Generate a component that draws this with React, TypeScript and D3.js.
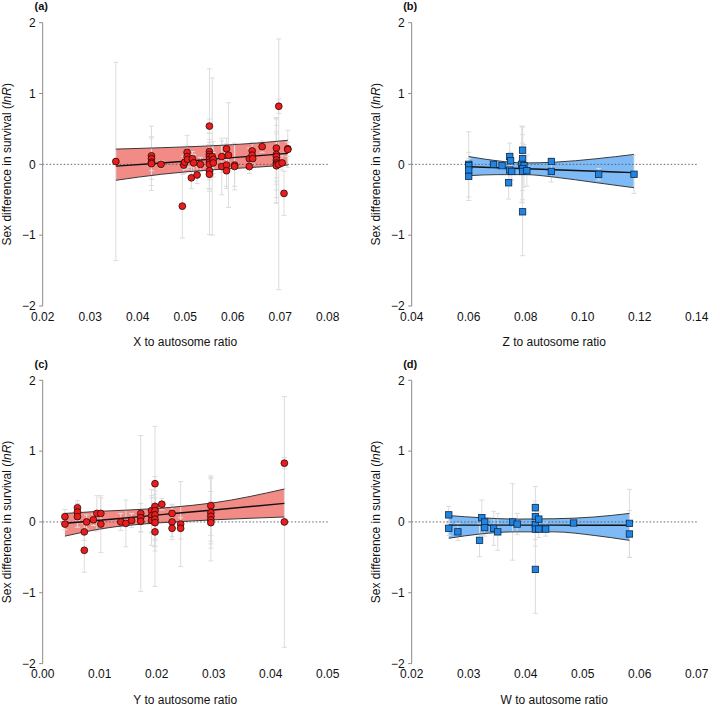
import React, { useEffect, useRef } from "react";
import * as d3 from "d3";

// (a) X to autosome ratio vs lnR
const xRatioA = [0.0354, 0.0429, 0.0429, 0.0429, 0.0429, 0.0449, 0.0494, 0.0497, 0.0499, 0.0504, 0.0504, 0.0505, 0.0513, 0.0515, 0.0518, 0.0525, 0.0532, 0.0551, 0.0551, 0.0551, 0.0551, 0.0551, 0.0551, 0.0551, 0.0551, 0.0551, 0.0557, 0.0559, 0.0559, 0.0577, 0.0577, 0.0587, 0.0587, 0.0587, 0.0591, 0.0604, 0.0604, 0.0635, 0.0635, 0.0641, 0.0641, 0.0642, 0.0662, 0.0692, 0.0692, 0.0692, 0.0692, 0.0692, 0.0692, 0.0692, 0.0697, 0.0697, 0.0704, 0.0708, 0.0716, 0.0716];
const lnRA = [0.04, 0.12, 0.08, 0.03, 0.01, 0.0, -0.59, -0.01, 0.03, 0.17, 0.11, 0.07, -0.19, 0.08, 0.02, -0.15, 0.0, 0.54, 0.18, 0.14, 0.11, 0.07, 0.03, 0.0, -0.09, -0.14, 0.11, 0.07, 0.02, 0.11, -0.03, 0.22, -0.01, -0.09, 0.13, -0.01, -0.03, 0.08, -0.03, 0.19, 0.13, 0.08, 0.25, 0.23, 0.14, 0.11, 0.06, 0.02, 0.0, -0.02, 0.82, 0.0, 0.02, -0.41, 0.22, 0.21];
const ciA = [1.4, 0.42, 0.29, 0.12, 0.38, 0.05, 0.45, 0.12, 0.1, 0.24, 0.15, 0.1, 0.15, 0.1, 0.12, 0.12, 0.1, 0.1, 1.17, 0.3, 0.2, 0.45, 0.25, 0.35, 0.25, 0.2, 1.11, 0.25, 0.15, 0.22, 0.4, 0.15, 0.3, 0.25, 0.74, 0.3, 0.33, 0.15, 0.1, 0.12, 0.1, 0.08, 0.08, 0.42, 0.5, 0.35, 0.6, 0.3, 0.55, 0.45, 0.1, 1.77, 0.1, 0.31, 0.26, 0.1];
const bandXA = [0.0354, 0.045, 0.055, 0.065, 0.0716];
const bandLoA = [-0.225, -0.14, -0.08, -0.04, -0.01];
const bandFitA = [-0.025, 0.02, 0.07, 0.12, 0.155];
const bandHiA = [0.215, 0.235, 0.26, 0.3, 0.34];
const ticksA = [0.02, 0.03, 0.04, 0.05, 0.06, 0.07, 0.08];

// (b) Z to autosome ratio vs lnR
const xRatioB = [0.06, 0.06, 0.06, 0.06, 0.0687, 0.0717, 0.074, 0.0744, 0.0747, 0.0744, 0.0751, 0.0789, 0.0789, 0.0786, 0.0794, 0.0789, 0.0789, 0.0789, 0.0804, 0.089, 0.089, 0.1056, 0.118];
const lnRB = [0.0, -0.02, -0.08, -0.17, 0.0, -0.02, -0.26, 0.11, 0.05, -0.08, -0.1, 0.2, 0.08, 0.0, -0.02, -0.06, -0.1, -0.67, -0.09, 0.04, -0.1, -0.14, -0.14];
const ciB = [0.46, 0.1, 0.1, 0.34, 0.05, 0.05, 0.23, 0.19, 0.12, 0.2, 0.12, 0.33, 0.45, 0.54, 0.3, 0.48, 0.4, 0.62, 0.22, 0.05, 0.15, 0.08, 0.27];
const bandXB = [0.06, 0.07, 0.08, 0.09, 0.105, 0.118];
const bandLoB = [-0.16, -0.145, -0.145, -0.18, -0.26, -0.33];
const bandFitB = [-0.033, -0.047, -0.062, -0.076, -0.098, -0.117];
const bandHiB = [0.11, 0.05, 0.02, 0.03, 0.08, 0.14];
const ticksB = [0.04, 0.06, 0.08, 0.1, 0.12, 0.14];

// (c) Y to autosome ratio vs lnR
const xRatioC = [0.0039, 0.0039, 0.0061, 0.0061, 0.0061, 0.0073, 0.0073, 0.0077, 0.0089, 0.0095, 0.0102, 0.0102, 0.0137, 0.0146, 0.0156, 0.0172, 0.0172, 0.0172, 0.0191, 0.0191, 0.0191, 0.0197, 0.0197, 0.0197, 0.0197, 0.0197, 0.0197, 0.0197, 0.0209, 0.0227, 0.0227, 0.0227, 0.0242, 0.0242, 0.0295, 0.0295, 0.0295, 0.0295, 0.0295, 0.0424, 0.0424];
const lnRC = [0.075, -0.03, 0.2, 0.14, 0.075, -0.14, -0.4, 0.0, 0.03, 0.12, 0.12, -0.03, 0.0, -0.02, 0.02, 0.12, 0.06, 0.01, 0.16, 0.09, 0.02, 0.54, 0.22, 0.16, 0.1, 0.04, -0.01, -0.14, 0.25, 0.12, 0.0, -0.09, -0.03, -0.09, 0.23, 0.13, 0.08, 0.03, -0.01, 0.83, 0.0];
const ciC = [0.1, 0.08, 0.1, 0.12, 0.15, 0.12, 0.31, 0.1, 0.08, 0.25, 0.22, 0.4, 0.12, 0.33, 0.1, 1.1, 0.2, 0.15, 0.3, 0.25, 0.35, 0.1, 1.13, 0.4, 0.45, 0.3, 0.4, 0.2, 0.08, 0.12, 0.25, 0.12, 0.6, 0.15, 0.42, 0.5, 0.35, 0.58, 0.3, 0.08, 1.77];
const bandXC = [0.0039, 0.01, 0.02, 0.023, 0.03, 0.0424];
const bandLoC = [-0.2, -0.1, -0.015, 0.0, 0.03, 0.07];
const bandFitC = [-0.02, 0.024, 0.097, 0.12, 0.169, 0.263];
const bandHiC = [0.12, 0.15, 0.19, 0.21, 0.27, 0.465];
const ticksC = [0.0, 0.01, 0.02, 0.03, 0.04, 0.05];

// (d) W to autosome ratio vs lnR
const xRatioD = [0.0265, 0.0265, 0.0281, 0.0319, 0.0323, 0.0328, 0.0328, 0.0344, 0.0351, 0.0377, 0.0385, 0.0417, 0.0417, 0.0417, 0.0417, 0.0417, 0.0423, 0.0423, 0.0435, 0.0484, 0.0582, 0.0582];
const lnRD = [0.1, -0.09, -0.14, -0.26, 0.06, 0.0, -0.08, -0.09, -0.14, 0.0, -0.03, 0.2, 0.075, -0.04, -0.1, -0.67, 0.04, -0.1, -0.1, -0.015, -0.02, -0.17];
const ciD = [0.12, 0.1, 0.12, 0.23, 0.25, 0.1, 0.12, 0.24, 0.26, 0.54, 0.15, 0.3, 0.22, 0.3, 0.15, 0.62, 0.1, 0.12, 0.1, 0.05, 0.48, 0.33];
const bandXD = [0.0265, 0.032, 0.038, 0.045, 0.052, 0.0582];
const bandLoD = [-0.23, -0.17, -0.14, -0.14, -0.19, -0.26];
const bandFitD = [-0.045, -0.045, -0.045, -0.045, -0.046, -0.047];
const bandHiD = [0.09, 0.06, 0.04, 0.045, 0.07, 0.12];
const ticksD = [0.02, 0.03, 0.04, 0.05, 0.06, 0.07];

const yTicks = [-2, -1, 0, 1, 2];

const RED = { point: "#ec1c1c", band: "#f28a85" };
const BLUE = { point: "#1f84e2", band: "#7dbaf6" };

const panels = [
  { label: "(a)", title: "X to autosome ratio", x: xRatioA, y: lnRA, ci: ciA, bx: bandXA, lo: bandLoA, fit: bandFitA, hi: bandHiA, ticks: ticksA, col: 0, row: 0, pal: RED, shape: "circle" },
  { label: "(b)", title: "Z to autosome ratio", x: xRatioB, y: lnRB, ci: ciB, bx: bandXB, lo: bandLoB, fit: bandFitB, hi: bandHiB, ticks: ticksB, col: 1, row: 0, pal: BLUE, shape: "square" },
  { label: "(c)", title: "Y to autosome ratio", x: xRatioC, y: lnRC, ci: ciC, bx: bandXC, lo: bandLoC, fit: bandFitC, hi: bandHiC, ticks: ticksC, col: 0, row: 1, pal: RED, shape: "circle" },
  { label: "(d)", title: "W to autosome ratio", x: xRatioD, y: lnRD, ci: ciD, bx: bandXD, lo: bandLoD, fit: bandFitD, hi: bandHiD, ticks: ticksD, col: 1, row: 1, pal: BLUE, shape: "square" },
];

const App = () => {
  const ref = useRef<SVGSVGElement>(null);

  useEffect(() => {
    const svg = d3.select(ref.current);
    svg.selectAll("*").remove();

    const font = "'Liberation Sans', Arial, Helvetica, sans-serif";
    const plotW = 285;
    const plotH = 283.3;
    const colX = [42.7, 411.7];
    const rowY = [22.7, 380.3];

    panels.forEach((p) => {
      const x0 = colX[p.col];
      const y0 = rowY[p.row];
      const x = d3.scaleLinear().domain([p.ticks[0], p.ticks[p.ticks.length - 1]]).range([x0, x0 + plotW]);
      const y = d3.scaleLinear().domain([-2, 2]).range([y0 + plotH, y0]);
      const g = svg.append("g");

      // confidence band
      const idx = d3.range(p.bx.length);
      g.append("path")
        .attr("d", d3.area<number>().x((i) => x(p.bx[i])).y0((i) => y(p.lo[i])).y1((i) => y(p.hi[i])).curve(d3.curveMonotoneX)(idx))
        .attr("fill", p.pal.band);

      // error bars
      const eb = g.append("g").attr("stroke", "#dcdcdc").attr("stroke-width", 1).attr("fill", "none");
      p.x.forEach((xv, i) => {
        const cx = x(xv);
        const top = y(p.y[i] + p.ci[i]);
        const bot = y(p.y[i] - p.ci[i]);
        eb.append("line").attr("x1", cx).attr("x2", cx).attr("y1", top).attr("y2", bot);
        eb.append("line").attr("x1", cx - 2.5).attr("x2", cx + 2.5).attr("y1", top).attr("y2", top);
        eb.append("line").attr("x1", cx - 2.5).attr("x2", cx + 2.5).attr("y1", bot).attr("y2", bot);
      });

      // band edges and fitted line
      const edge = (vals: number[]) =>
        d3.line<number>().x((i) => x(p.bx[i])).y((i) => y(vals[i])).curve(d3.curveMonotoneX)(idx);
      g.append("path").attr("d", edge(p.hi)).attr("fill", "none").attr("stroke", "#3a3a3a").attr("stroke-width", 1);
      g.append("path").attr("d", edge(p.lo)).attr("fill", "none").attr("stroke", "#3a3a3a").attr("stroke-width", 1);

      // zero reference
      g.append("line")
        .attr("x1", x0).attr("x2", x0 + plotW)
        .attr("y1", y(0)).attr("y2", y(0))
        .attr("stroke", "#555").attr("stroke-width", 0.9).attr("stroke-dasharray", "1.5,2");

      g.append("path").attr("d", edge(p.fit)).attr("fill", "none").attr("stroke", "#111").attr("stroke-width", 1.4);

      // points
      if (p.shape === "circle") {
        g.append("g").selectAll("circle").data(p.x).join("circle")
          .attr("cx", (d) => x(d)).attr("cy", (_, i) => y(p.y[i])).attr("r", 3.4)
          .attr("fill", p.pal.point).attr("stroke", "#2a0a0a").attr("stroke-width", 0.8);
      } else {
        const s = 6.4;
        g.append("g").selectAll("rect").data(p.x).join("rect")
          .attr("x", (d) => x(d) - s / 2).attr("y", (_, i) => y(p.y[i]) - s / 2)
          .attr("width", s).attr("height", s)
          .attr("fill", p.pal.point).attr("stroke", "#0d2a4a").attr("stroke-width", 0.8);
      }

      // y axis
      g.append("line").attr("x1", x0).attr("x2", x0).attr("y1", y(2)).attr("y2", y(-2))
        .attr("stroke", "#8a8a8a").attr("stroke-width", 1);
      yTicks.forEach((t) => {
        g.append("line").attr("x1", x0 - 3.5).attr("x2", x0).attr("y1", y(t)).attr("y2", y(t))
          .attr("stroke", "#8a8a8a").attr("stroke-width", 1);
        g.append("text").attr("x", x0 - 7).attr("y", y(t)).attr("dy", "0.36em")
          .attr("text-anchor", "end").attr("font-family", font).attr("font-size", 12).attr("fill", "#111")
          .text(t < 0 ? `\u2212${Math.abs(t)}` : `${t}`);
      });

      // x tick labels (no axis line)
      p.ticks.forEach((t) => {
        g.append("text").attr("x", x(t)).attr("y", y0 + plotH + 14.5)
          .attr("text-anchor", "middle").attr("font-family", font).attr("font-size", 12).attr("fill", "#111")
          .text(d3.format(".2f")(t));
      });

      // x title
      g.append("text").attr("x", x0 + plotW / 2).attr("y", y0 + plotH + 40)
        .attr("text-anchor", "middle").attr("font-family", font).attr("font-size", 12).attr("fill", "#111")
        .text(p.title);

      // y title
      const yt = g.append("text")
        .attr("transform", `translate(${x0 - 32.2},${y(0)}) rotate(-90)`)
        .attr("text-anchor", "middle").attr("font-family", font).attr("font-size", 12).attr("fill", "#111");
      yt.append("tspan").text("Sex difference in survival (");
      yt.append("tspan").attr("font-style", "italic").text("lnR");
      yt.append("tspan").text(")");

      // panel label
      g.append("text").attr("x", x0 - 1.5).attr("y", y0 - 12.3)
        .attr("text-anchor", "middle").attr("font-family", font).attr("font-size", 11)
        .attr("font-weight", "bold").attr("fill", "#111")
        .text(p.label);
    });
  }, []);

  return (
    <svg
      ref={ref}
      width={709}
      height={709}
      style={{ position: "absolute", left: 0, top: 0, background: "#fff" }}
    />
  );
};

export default App;
